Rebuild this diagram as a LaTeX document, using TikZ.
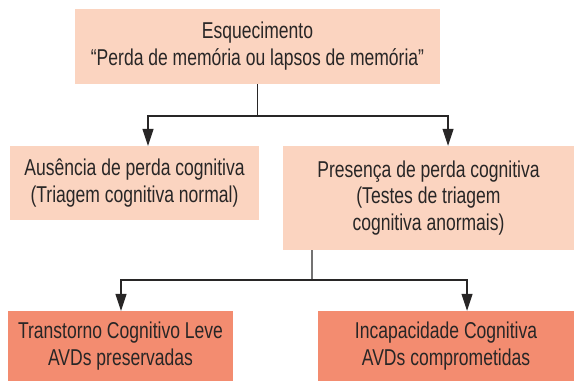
\documentclass[tikz,border=0pt]{standalone}
\usepackage{fontspec}
\setmainfont{Liberation Sans}[FakeStretch=0.765]
\usepackage{tikz}
\usetikzlibrary{arrows.meta}
\definecolor{peachlight}{RGB}{251,212,192}
\definecolor{peachdark}{RGB}{243,140,112}
\definecolor{inkgray}{RGB}{40,38,38}
\tikzstyle{box}=[fill=peachlight, inner sep=0pt, align=center, text=inkgray,
  font=\fontsize{23}{27}\selectfont]
\tikzstyle{outbox}=[box, fill=peachdark]
\tikzstyle{link}=[draw=inkgray, line width=1.1bp]

\begin{document}
\begin{tikzpicture}[x=1bp,y=-1bp,>={Triangle[width=11bp,length=17bp]}]
      \useasboundingbox (0,0) rectangle (574,381);
      \node [box, minimum width=364bp, minimum height=75bp] (esq) at (257.5,46.5)
        {Esquecimento\\“Perda de memória ou lapsos de memória”};
      \node [box, minimum width=249bp, minimum height=74bp] (aus) at (134.5,183)
        {Ausência de perda cognitiva\\(Triagem cognitiva normal)};
      \node [box, minimum width=291bp, minimum height=104bp] (pres) at (428.5,198)
        {Presença de perda cognitiva\\(Testes de triagem\\cognitiva anormais)};
      \node [outbox, minimum width=225bp, minimum height=70bp] (tcl) at (120.5,346)
        {Transtorno Cognitivo Leve\\AVDs preservadas};
      \node [outbox, minimum width=256bp, minimum height=70bp] (incap) at (446,346)
        {Incapacidade Cognitiva\\AVDs comprometidas};
      \coordinate (j1) at (257.5,116);
      \coordinate (j2) at (312,280);
      \draw [link] (esq.south) -- (j1);
      \draw [link,->] (j1) -| ([xshift=13.5bp]aus.north);
      \draw [link,->] (j1) -| ([xshift=19.5bp]pres.north);
      \draw [link] ([xshift=-116.5bp]pres.south) -- (j2);
      \draw [link,->] (j2) -| ([xshift=0.5bp]tcl.north);
      \draw [link,->] (j2) -| ([xshift=21bp]incap.north);
  \end{tikzpicture}
\end{document}
